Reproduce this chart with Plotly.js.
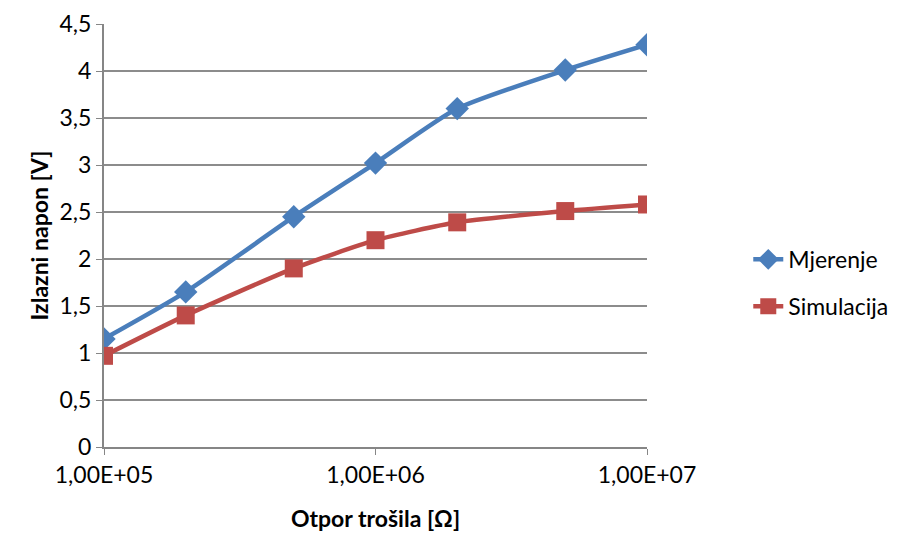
<!DOCTYPE html>
<html>
<head>
<meta charset="utf-8">
<script src="https://cdn.plot.ly/plotly-3.0.1.min.js"></script>
<style>html,body{margin:0;padding:0;background:#fff;}#chart{width:907px;height:535px;}</style>
</head>
<body>
<div id="chart"></div>
<script>
const resistance = [1e5, 2e5, 5e5, 1e6, 2e6, 5e6, 1e7];
const mjerenje = [1.15, 1.65, 2.45, 3.02, 3.60, 4.01, 4.28];
const simulacija = [0.97, 1.40, 1.90, 2.20, 2.39, 2.51, 2.58];
const xTickVals = [1e5, 1e6, 1e7];
const xTickText = ['1,00E+05', '1,00E+06', '1,00E+07'];
const yTickVals = [0, 0.5, 1, 1.5, 2, 2.5, 3, 3.5, 4, 4.5];

const fontFam = 'Lato, "Open Sans", sans-serif';
const traces = [
  {x: resistance, y: mjerenje, name: 'Mjerenje', mode: 'lines+markers', legendgroup: 'a',
   line: {color: '#4A7EBB', width: 4.5, shape: 'spline', smoothing: 0.6},
   marker: {symbol: 'diamond', size: 18, color: '#4A7EBB'}},
  {x: resistance, y: simulacija, name: 'Simulacija', mode: 'lines+markers', legendgroup: 'b',
   line: {color: '#BE4B48', width: 4.5, shape: 'spline', smoothing: 0.6},
   marker: {symbol: 'square', size: 18, color: '#BE4B48'}}
];
const layout = {
  width: 907, height: 535,
  margin: {l: 104, r: 260, t: 24, b: 88, autoexpand: false},
  separators: ', ',
  paper_bgcolor: '#fff', plot_bgcolor: '#fff',
  font: {family: fontFam, size: 23, color: '#000'},
  showlegend: true,
  legend: {xref: 'container', x: 0.825, y: 0.388, xanchor: 'left', yanchor: 'middle', font: {size: 23},
           tracegroupgap: 14, traceorder: 'grouped', itemwidth: 30},
  xaxis: {type: 'log', range: [5, 7], tickvals: xTickVals, ticktext: xTickText,
          showgrid: false, showline: true, linecolor: '#868686', linewidth: 2,
          ticks: 'outside', ticklen: 6, tickcolor: '#868686', tickwidth: 1, zeroline: false,
          tickfont: {size: 23},
          title: {text: '<b>Otpor trošila [Ω]</b>', font: {size: 23}, standoff: 24}},
  yaxis: {range: [0, 4.5], tickvals: yTickVals, showgrid: true, gridcolor: '#8C8C8C', gridwidth: 2,
          showline: true, linecolor: '#868686', linewidth: 2, zeroline: false,
          ticks: 'outside', ticklen: 6, tickcolor: '#868686',
          tickfont: {size: 23},
          title: {text: '<b>Izlazni napon [V]</b>', font: {size: 23}, standoff: 4}}
};
Plotly.newPlot('chart', traces, layout, {displayModeBar: false, staticPlot: true});
</script>
</body>
</html>
